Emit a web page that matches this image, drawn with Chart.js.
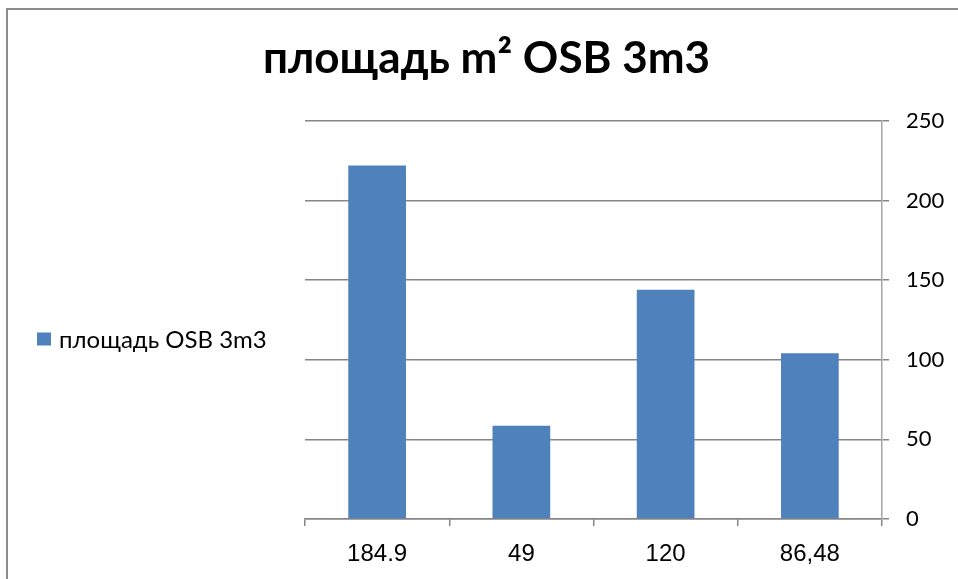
<!DOCTYPE html>
<html>
<head>
<meta charset="utf-8">
<title>площадь m² OSB 3m3</title>
<script src="https://cdn.jsdelivr.net/npm/chart.js@4/dist/chart.umd.min.js"></script>
<style>
  html, body { margin: 0; padding: 0; background: #ffffff; overflow: hidden; }
  #wrap { position: relative; width: 958px; height: 579px; }
  canvas { display: block; }
</style>
</head>
<body>
<div id="wrap"><canvas id="chart" width="958" height="579"></canvas></div>
<script>
// Chart text
const chartTitle = 'площадь m² OSB 3m3';
const seriesName = 'площадь OSB 3m3';

// Categories along the bottom axis
const categories = ['184.9', '49', '120', '86,48'];

// Bar heights
const areaValues = [222, 58.5, 144, 104];

// Right-hand axis ticks
const yTicks = [0, 50, 100, 150, 200, 250];

const BAR_BLUE = '#4f81bd';
const GRID_GREY = '#868686';
const AXIS_GREY = '#a6a6a6';

// Grey frame around the chart object (top and left edges visible)
const framePlugin = {
  id: 'frame',
  beforeDraw(chart) {
    const ctx = chart.ctx;
    ctx.save();
    ctx.fillStyle = '#ffffff';
    ctx.fillRect(0, 0, chart.width, chart.height);
    ctx.strokeStyle = '#8c8c8c';
    ctx.lineWidth = 2;
    ctx.beginPath();
    ctx.moveTo(7, chart.height + 5);
    ctx.lineTo(7, 9);
    ctx.lineTo(chart.width + 5, 9);
    ctx.stroke();
    ctx.restore();
  }
};

// Single-entry legend drawn to the left of the plot
const sideLegend = {
  id: 'sideLegend',
  afterDraw(chart) {
    const ds = chart.data.datasets[0];
    const ctx = chart.ctx;
    const y = 339;
    ctx.save();
    ctx.fillStyle = ds.backgroundColor;
    ctx.fillRect(37, y - 6.5, 14, 13);
    ctx.fillStyle = '#000000';
    ctx.font = '24px Lato, "Open Sans", sans-serif';
    ctx.textBaseline = 'middle';
    ctx.textAlign = 'left';
    ctx.fillText(ds.label, 59, y + 1);
    ctx.restore();
  }
};

new Chart(document.getElementById('chart'), {
  type: 'bar',
  data: {
    labels: categories,
    datasets: [{
      label: seriesName,
      data: areaValues,
      backgroundColor: BAR_BLUE,
      borderWidth: 0,
      yAxisID: 'y',
      categoryPercentage: 1.0,
      barPercentage: 0.4
    }]
  },
  options: {
    responsive: false,
    animation: false,
    events: [],
    layout: { padding: { left: 15, right: 0, top: 0, bottom: 0 } },
    plugins: {
      legend: { display: false },
      tooltip: { enabled: false },
      title: {
        display: true,
        text: chartTitle,
        color: '#000000',
        font: { family: 'Lato, "Open Sans", sans-serif', size: 44, weight: 'bold', lineHeight: 1.2 },
        padding: { top: 32, bottom: 36 }
      }
    },
    scales: {
      x: {
        type: 'category',
        offset: true,
        grid: {
          display: true,
          offset: true,
          drawOnChartArea: false,
          drawTicks: true,
          tickLength: 7,
          color: GRID_GREY,
          lineWidth: 1.5
        },
        border: { display: true, color: GRID_GREY, width: 1.5 },
        ticks: {
          color: '#000000',
          padding: 14,
          font: { family: '"Liberation Sans", Arial, sans-serif', size: 24 }
        },
        afterFit(scale) { scale.height = 60; }
      },
      spacer: {
        type: 'linear',
        position: 'left',
        display: true,
        grid: { display: false },
        border: { display: false },
        ticks: { display: false },
        afterFit(scale) { scale.width = 290; }
      },
      y: {
        type: 'linear',
        position: 'right',
        min: yTicks[0],
        max: yTicks[yTicks.length - 1],
        afterBuildTicks(scale) { scale.ticks = yTicks.map(v => ({ value: v })); },
        grid: {
          color: GRID_GREY,
          lineWidth: 1.5,
          tickLength: 7,
          drawTicks: true
        },
        border: { display: true, color: AXIS_GREY, width: 1.5 },
        ticks: {
          color: '#000000',
          padding: 17,
          font: { family: 'Lato, "Open Sans", sans-serif', size: 22 }
        },
        afterFit(scale) { scale.width = 76; }
      }
    }
  },
  plugins: [framePlugin, sideLegend]
});
</script>
</body>
</html>
